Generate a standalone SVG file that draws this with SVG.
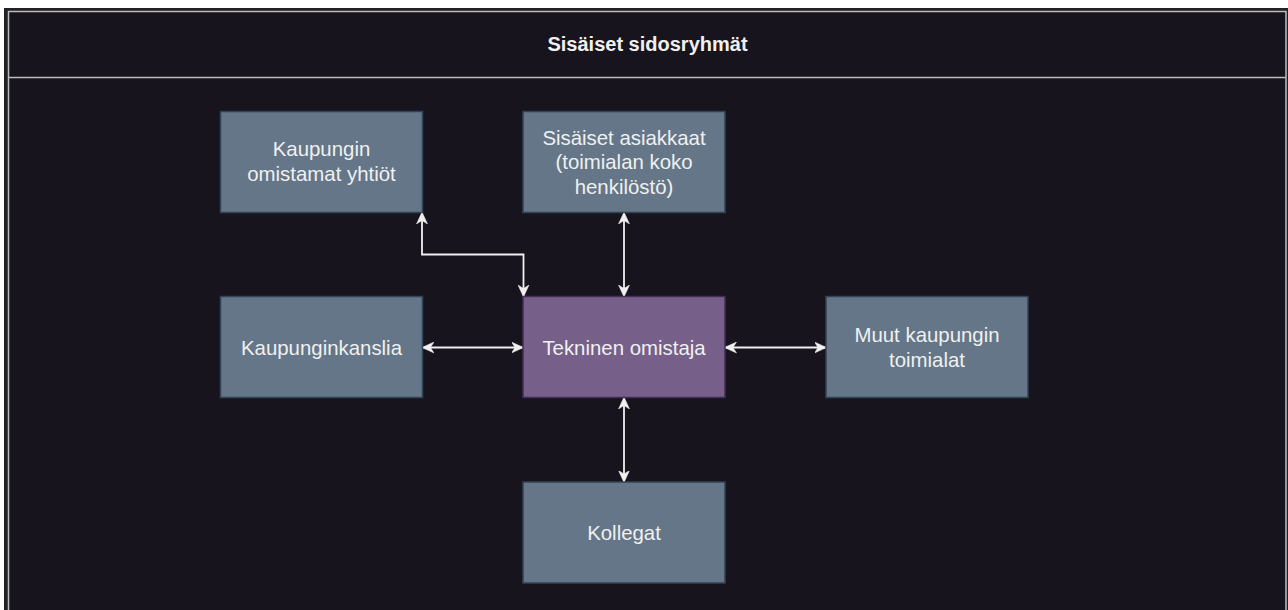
<svg xmlns="http://www.w3.org/2000/svg" width="1288" height="610" viewBox="0 0 1288 610">
  <defs>
    <style>
      .box { fill: #647687; stroke: #314354; stroke-width: 1.5; }
      .main { fill: #76608a; stroke: #432d57; stroke-width: 1.5; }
      .lbl { font-family: "Liberation Sans", Arial, sans-serif; font-size: 20.4px; fill: #f0f0f0; text-anchor: middle; }
      .title { font-family: "Liberation Sans", Arial, sans-serif; font-size: 20px; font-weight: bold; fill: #f0f0f0; text-anchor: middle; }
      .conn { fill: none; stroke: #f0f0f0; stroke-width: 1.8; marker-start: url(#arr); marker-end: url(#arr); }
    </style>
    <marker id="arr" viewBox="0 0 12 12" refX="11.5" refY="6" markerWidth="12" markerHeight="12" markerUnits="userSpaceOnUse" orient="auto-start-reverse">
      <path d="M0,0.5 L12,6 L0,11.5 L3.5,6 Z" fill="#f0f0f0" stroke="#f0f0f0" stroke-width="0.5"/>
    </marker>
  </defs>
  <rect x="0" y="0" width="1288" height="610" fill="#ffffff"/>
  <rect x="4" y="8" width="1284" height="610" fill="#222226"/>
  <g id="swimlane">
    <rect x="8.5" y="11.5" width="1277.5" height="610" fill="#18141d" stroke="#bdbdbd" stroke-width="1.5"/>
    <line x1="8.5" y1="77.5" x2="1286" y2="77.5" stroke="#bdbdbd" stroke-width="1.5"/>
    <text class="title" x="647.5" y="51">Sisäiset sidosryhmät</text>
  </g>
  <g id="connectors">
    <path class="conn" d="M422,212.5 V254.5 H523.5 V296.5"/>
    <path class="conn" d="M624,212.5 V296.5"/>
    <path class="conn" d="M422.5,347.5 H523"/>
    <path class="conn" d="M725,347.5 H826"/>
    <path class="conn" d="M624,397.5 V482"/>
  </g>
  <g id="n-kaupungin-yhtiot">
    <rect class="box" x="220.5" y="111.5" width="202" height="101"/>
    <text class="lbl" x="321.5" y="156">Kaupungin</text>
    <text class="lbl" x="321.5" y="180.5">omistamat yhtiöt</text>
  </g>
  <g id="n-sisaiset-asiakkaat">
    <rect class="box" x="523" y="111.5" width="202" height="101"/>
    <text class="lbl" x="624" y="144.5">Sisäiset asiakkaat</text>
    <text class="lbl" x="624" y="169">(toimialan koko</text>
    <text class="lbl" x="624" y="193.5">henkilöstö)</text>
  </g>
  <g id="n-kaupunginkanslia">
    <rect class="box" x="220.5" y="296.5" width="202" height="101"/>
    <text class="lbl" x="321.5" y="354.5">Kaupunginkanslia</text>
  </g>
  <g id="n-tekninen-omistaja">
    <rect class="main" x="523" y="296.5" width="202" height="101"/>
    <text class="lbl" x="624" y="354.5">Tekninen omistaja</text>
  </g>
  <g id="n-muut-toimialat">
    <rect class="box" x="826" y="296.5" width="202" height="101"/>
    <text class="lbl" x="927" y="342">Muut kaupungin</text>
    <text class="lbl" x="927" y="366.5">toimialat</text>
  </g>
  <g id="n-kollegat">
    <rect class="box" x="523" y="482" width="202" height="101"/>
    <text class="lbl" x="624" y="540">Kollegat</text>
  </g>
</svg>
